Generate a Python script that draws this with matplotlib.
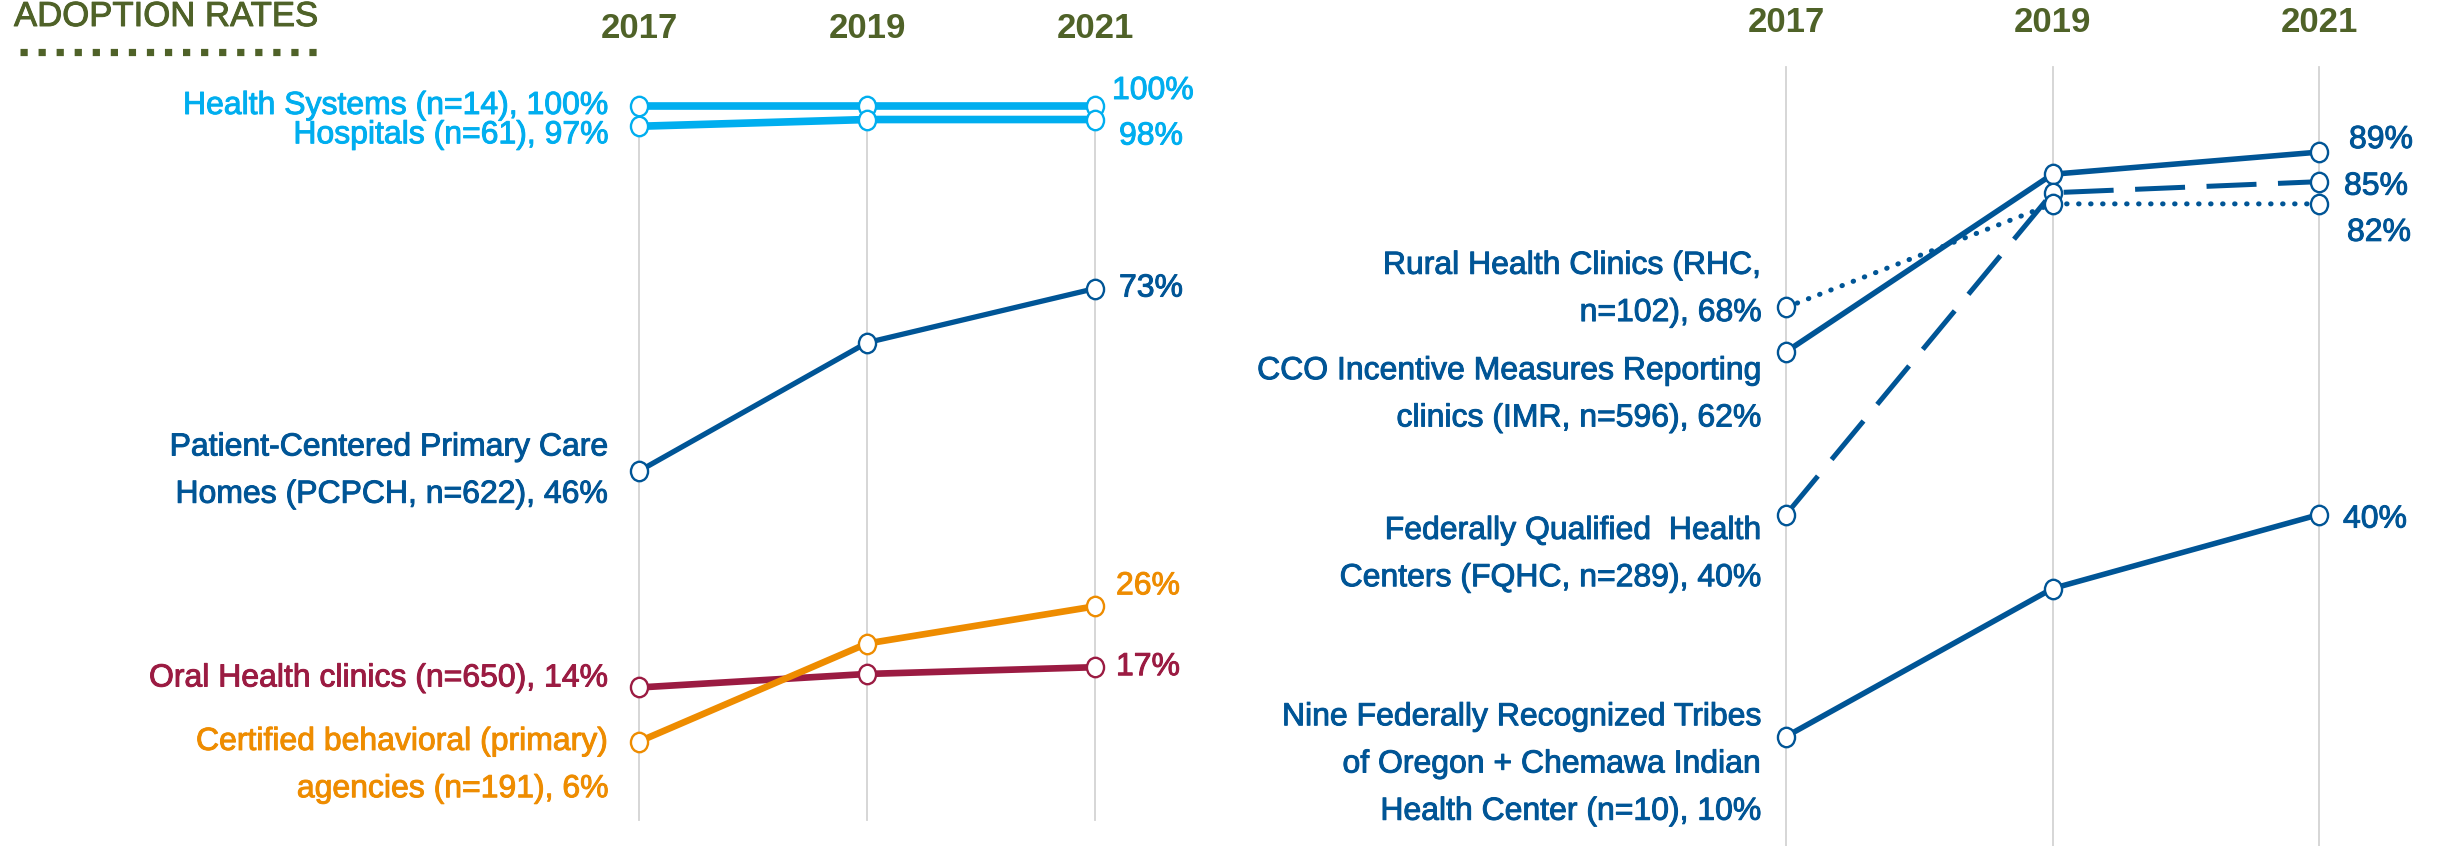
import matplotlib
matplotlib.use('Agg')
import matplotlib.pyplot as plt
from matplotlib.lines import Line2D
from matplotlib.path import Path
from matplotlib import transforms
import matplotlib.patheffects as pe

plt.rcParams['font.family'] = ['Liberation Sans Narrow', 'Liberation Sans', 'DejaVu Sans']

years = [2017, 2019, 2021]

# left panel
left_names = ['Health Systems (n=14), 100%', 'Hospitals (n=61), 97%',
              'Patient-Centered Primary Care\nHomes (PCPCH, n=622), 46%',
              'Oral Health clinics (n=650), 14%',
              'Certified behavioral (primary)\nagencies (n=191), 6%']
left_vals = [[100, 100, 100], [97, 98, 98], [46, 65, 73], [14, 16, 17], [6, 20.5, 26]]
left_end = ['100%', '98%', '73%', '17%', '26%']

# right panel
right_names = ['CCO Incentive Measures Reporting\nclinics (IMR, n=596), 62%',
               'Federally Qualified  Health\nCenters (FQHC, n=289), 40%',
               'Rural Health Clinics (RHC,\nn=102), 68%',
               'Nine Federally Recognized Tribes\nof Oregon + Chemawa Indian\nHealth Center (n=10), 10%']
right_vals = [[62, 86, 89], [40, 83.5, 85], [68, 82, 82], [10, 30, 40]]
right_end = ['89%', '85%', '82%', '40%']

lightblue = '#00AEEF'
darkblue = '#005596'
maroon = '#9B1B42'
orange = '#EE8C00'
green = '#4F6228'

left_colors = [lightblue, lightblue, darkblue, maroon, orange]
left_lw = [5.5, 5.5, 3.8, 4.8, 4.8]
left_lab_dy = [0, -9, 0, 9, -24]
left_end_dx = [17, 24, 24, 21, 21]
left_end_dy = [15, -17, 0, 0, 20]

right_ls = ['-', (0, (10, 4.3)), (0, (0.1, 2.3)), '-']
right_caps = ['butt', 'butt', 'round', 'butt']
right_lw = [4.0, 3.6, 3.6, 4.0]
right_lab_dy = [-43, -40, 18, -28]
right_end_dx = [30, 25, 28, 24]
right_end_dy = [12, -5, -29, -5]

# slightly tall open circle like the original
circ = Path.unit_circle()
oval = Path(circ.vertices * [0.88, 1.0], circ.codes)


def heavy(c):
    return [pe.withStroke(linewidth=0.7, foreground=c)]


W, H = 2437, 846
fig = plt.figure(figsize=(W / 100, H / 100), dpi=100)

axL = fig.add_axes([639 / W, 26 / H, 456 / W, 714 / H])
axL.set_xlim(2017, 2021)
axL.set_ylim(-5.6, 100)
axR = fig.add_axes([1786 / W, 0, 533 / W, 779 / H])
axR.set_xlim(2017, 2021)
axR.set_ylim(-4.8, 100.5)

for ax, ytxt in ((axL, 28), (axR, 23)):
    ax.axis('off')
    tr = transforms.blended_transform_factory(ax.transData, fig.transFigure)
    for yr in years:
        ax.axvline(yr, color='#D3D3D3', lw=1.3, zorder=0, clip_on=False)
        ax.text(yr, 1 - ytxt / H, str(yr), transform=tr, ha='center', va='center',
                fontsize=25, fontweight='bold', color=green)

for i, name in enumerate(left_names):
    c = left_colors[i]
    axL.plot(years, left_vals[i], color=c, lw=left_lw[i], marker=oval, ms=14,
             mfc='white', mec=c, mew=1.7, clip_on=False, zorder=3 + i * 0.1)
    axL.annotate(name, (years[0], left_vals[i][0]), xytext=(-30, left_lab_dy[i]),
                 textcoords='offset pixels', ha='right', va='center',
                 fontsize=23, color=c, linespacing=1.75, path_effects=heavy(c))
    axL.annotate(left_end[i], (years[-1], left_vals[i][-1]),
                 xytext=(left_end_dx[i], left_end_dy[i]),
                 textcoords='offset pixels', ha='left', va='center',
                 fontsize=23, color=c, path_effects=heavy(c))

for i, name in enumerate(right_names):
    axR.plot(years, right_vals[i], color=darkblue, lw=right_lw[i], ls=right_ls[i],
             solid_capstyle='butt', dash_capstyle=right_caps[i],
             marker=oval, ms=14, mfc='white', mec=darkblue, mew=1.7,
             clip_on=False, zorder=3)
    axR.annotate(name, (years[0], right_vals[i][0]), xytext=(-24, right_lab_dy[i]),
                 textcoords='offset pixels', ha='right', va='center',
                 fontsize=23, color=darkblue, linespacing=1.75,
                 path_effects=heavy(darkblue))
    axR.annotate(right_end[i], (years[-1], right_vals[i][-1]),
                 xytext=(right_end_dx[i], right_end_dy[i]),
                 textcoords='offset pixels', ha='left', va='center',
                 fontsize=23, color=darkblue, path_effects=heavy(darkblue))

# title, cut at the top edge
fig.text(14 / W, 1 - 26 / H, 'ADOPTION RATES', ha='left', va='baseline',
         fontsize=25, color=green, path_effects=heavy(green))
fig.add_artist(Line2D([20 / W, 317 / W], [1 - 52 / H] * 2, transform=fig.transFigure,
                      color=green, lw=5.2, dashes=(1, 1.5), dash_capstyle='butt'))

fig.savefig('out.png', dpi=100)
